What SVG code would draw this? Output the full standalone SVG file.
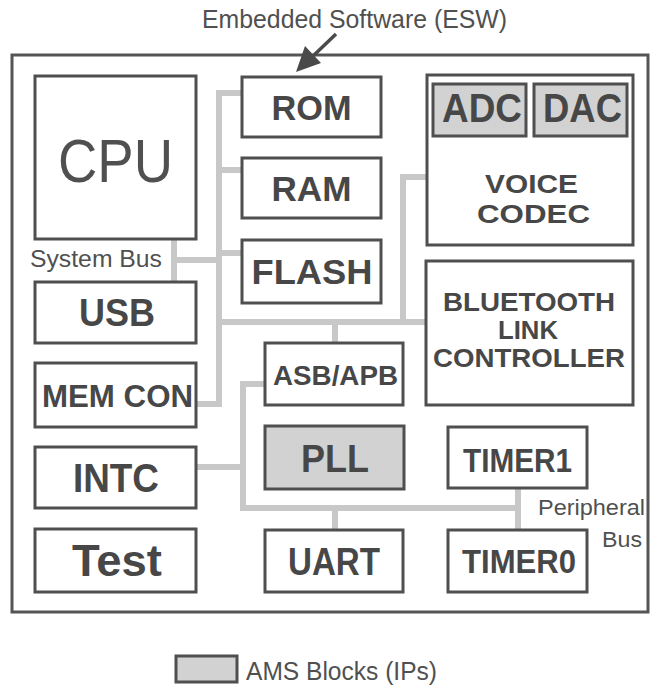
<svg xmlns="http://www.w3.org/2000/svg" width="654" height="685" viewBox="0 0 654 685">
<style>
  .box { fill: #ffffff; stroke: #4f4f4f; stroke-width: 3; }
  .ams { fill: #d2d2d2; stroke: #4f4f4f; stroke-width: 3; }
  .frame { fill: none; stroke: #555555; stroke-width: 3; }
  .bus { fill: none; stroke: #c8c8c8; stroke-width: 6; stroke-linejoin: miter; stroke-linecap: butt; }
  .lbl { font-family: "Liberation Sans", Arial, Helvetica, sans-serif; font-weight: bold; fill: #474747; text-anchor: middle; }
  .reg { font-family: "Liberation Sans", Arial, Helvetica, sans-serif; font-weight: normal; fill: #505050; }
</style>
<rect width="654" height="685" fill="#ffffff"/>
<rect class="frame" x="12" y="55" width="636" height="557"/>

<g id="connectors">
  <path class="bus" d="M242,93 H219 V404 H197"/>
  <path class="bus" d="M219,170 H242"/>
  <path class="bus" d="M219,253 H242"/>
  <path class="bus" d="M174,239 V282"/>
  <path class="bus" d="M174,260 H219"/>
  <path class="bus" d="M219,322 H426"/>
  <path class="bus" d="M403,322 V177 H427"/>
  <path class="bus" d="M335,322 V343"/>
  <path class="bus" d="M265,384 H243 V508 H518"/>
  <path class="bus" d="M197,467 H243"/>
  <path class="bus" d="M335,508 V530"/>
  <path class="bus" d="M518,488 V530"/>
  <line x1="336" y1="34" x2="312" y2="57" stroke="#4a4a4a" stroke-width="3.5"/>
  <polygon points="296,72 321,63 305,46" fill="#4a4a4a"/>
</g>

<g id="esw-label">
  <text class="reg" x="202" y="28" font-size="25" textLength="305" lengthAdjust="spacingAndGlyphs">Embedded Software (ESW)</text>
</g>

<g id="cpu">
  <rect class="box" x="35" y="76" width="161" height="163"/>
  <text class="reg" x="115.5" y="182" font-size="62" text-anchor="middle" textLength="115" lengthAdjust="spacingAndGlyphs">CPU</text>
</g>
<g id="system-bus-label">
  <text class="reg" x="30" y="267" font-size="24" textLength="132" lengthAdjust="spacingAndGlyphs">System Bus</text>
</g>
<g id="usb">
  <rect class="box" x="35" y="282" width="161" height="61"/>
  <text class="lbl" x="117" y="326" font-size="38" textLength="76" lengthAdjust="spacingAndGlyphs">USB</text>
</g>
<g id="memcon">
  <rect class="box" x="35" y="363" width="161" height="64"/>
  <text class="lbl" x="117.5" y="407" font-size="32" textLength="151" lengthAdjust="spacingAndGlyphs">MEM CON</text>
</g>
<g id="intc">
  <rect class="box" x="35" y="447" width="161" height="61"/>
  <text class="lbl" x="116" y="492" font-size="40" textLength="86" lengthAdjust="spacingAndGlyphs">INTC</text>
</g>
<g id="test">
  <rect class="box" x="35" y="529" width="161" height="63"/>
  <text class="lbl" x="117" y="576" font-size="44" textLength="90" lengthAdjust="spacingAndGlyphs">Test</text>
</g>

<g id="rom">
  <rect class="box" x="242" y="77" width="139" height="60"/>
  <text class="lbl" x="311.5" y="119.5" font-size="35" textLength="80" lengthAdjust="spacingAndGlyphs">ROM</text>
</g>
<g id="ram">
  <rect class="box" x="242" y="158" width="139" height="60"/>
  <text class="lbl" x="311.5" y="200.5" font-size="35" textLength="80" lengthAdjust="spacingAndGlyphs">RAM</text>
</g>
<g id="flash">
  <rect class="box" x="242" y="240" width="139" height="63"/>
  <text class="lbl" x="312" y="284" font-size="35" textLength="121" lengthAdjust="spacingAndGlyphs">FLASH</text>
</g>

<g id="voice-codec">
  <rect class="box" x="427" y="75" width="206" height="170"/>
  <text class="lbl" x="531.5" y="193" font-size="26" textLength="93" lengthAdjust="spacingAndGlyphs">VOICE</text>
  <text class="lbl" x="533.5" y="223" font-size="26" textLength="113" lengthAdjust="spacingAndGlyphs">CODEC</text>
</g>
<g id="adc">
  <rect class="ams" x="433" y="84" width="93" height="52"/>
  <text class="lbl" x="482" y="122" font-size="40" textLength="80" lengthAdjust="spacingAndGlyphs">ADC</text>
</g>
<g id="dac">
  <rect class="ams" x="534" y="84" width="93" height="52"/>
  <text class="lbl" x="582.5" y="122" font-size="40" textLength="79" lengthAdjust="spacingAndGlyphs">DAC</text>
</g>

<g id="bluetooth">
  <rect class="box" x="426" y="261" width="207" height="144"/>
  <text class="lbl" x="529" y="311" font-size="25" textLength="172" lengthAdjust="spacingAndGlyphs">BLUETOOTH</text>
  <text class="lbl" x="528" y="339" font-size="25" textLength="60" lengthAdjust="spacingAndGlyphs">LINK</text>
  <text class="lbl" x="529" y="367" font-size="25" textLength="192" lengthAdjust="spacingAndGlyphs">CONTROLLER</text>
</g>

<g id="asbapb">
  <rect class="box" x="265" y="343" width="138" height="62"/>
  <text class="lbl" x="335.5" y="385" font-size="28" textLength="125" lengthAdjust="spacingAndGlyphs">ASB/APB</text>
</g>
<g id="pll">
  <rect class="ams" x="265" y="426" width="139" height="63"/>
  <text class="lbl" x="335" y="472" font-size="38" textLength="68" lengthAdjust="spacingAndGlyphs">PLL</text>
</g>
<g id="uart">
  <rect class="box" x="265" y="530" width="138" height="62"/>
  <text class="lbl" x="334" y="575" font-size="38" textLength="92" lengthAdjust="spacingAndGlyphs">UART</text>
</g>
<g id="timer1">
  <rect class="box" x="448" y="427" width="139" height="61"/>
  <text class="lbl" x="517.5" y="472" font-size="34" textLength="109" lengthAdjust="spacingAndGlyphs">TIMER1</text>
</g>
<g id="timer0">
  <rect class="box" x="448" y="530" width="139" height="62"/>
  <text class="lbl" x="519" y="573" font-size="34" textLength="114" lengthAdjust="spacingAndGlyphs">TIMER0</text>
</g>
<g id="peripheral-bus-label">
  <text class="reg" x="538" y="515" font-size="22" textLength="107" lengthAdjust="spacingAndGlyphs">Peripheral</text>
  <text class="reg" x="602" y="547" font-size="22" textLength="40" lengthAdjust="spacingAndGlyphs">Bus</text>
</g>

<g id="legend">
  <rect class="ams" x="176" y="656" width="61" height="26"/>
  <text class="reg" x="246" y="680" font-size="25" textLength="191" lengthAdjust="spacingAndGlyphs">AMS Blocks (IPs)</text>
</g>
</svg>
